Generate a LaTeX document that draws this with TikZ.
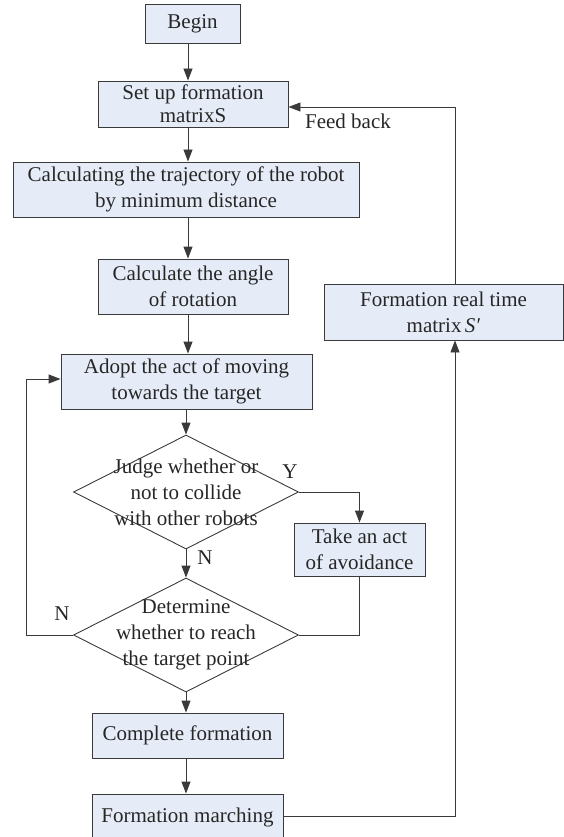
\documentclass[tikz,border=0pt]{standalone}
\usepackage{fontspec}
\setmainfont{Liberation Serif}
\usetikzlibrary{shapes.geometric,arrows.meta}
\definecolor{boxfill}{HTML}{E6ECF7}
\definecolor{lin}{HTML}{3A3A3A}
\begin{document}
\begin{tikzpicture}[x=1pt,y=-1pt,
  every node/.style={font=\fontsize{21}{26}\selectfont, text=black!85},
  procbox/.style={draw=lin, line width=0.9pt, fill=boxfill, rectangle, inner sep=0pt, align=center},
  decide/.style={draw=lin, line width=0.9pt, diamond, inner sep=0pt, minimum width=225pt, minimum height=114pt},
  txt/.style={align=center, inner sep=0pt},
  conn/.style={draw=lin, line width=0.9pt},
  arr/.style={conn, -{Triangle[length=12pt,width=9pt]}}
]
\useasboundingbox (0,0) rectangle (564,837);
\clip (0,0) rectangle (564,837);
\coordinate (ax) at (188,0);

\node[procbox, minimum width=95pt, minimum height=39pt] (begin) at (192.5,23.5) {Begin};
\node[procbox, minimum width=190pt, minimum height=46pt] (setup) at (193,104) {Set up formation\\[-3pt]matrixS};
\node[procbox, minimum width=346pt, minimum height=55pt] (traj) at (186,189.5) {Calculating the trajectory of the robot\\by minimum distance};
\node[procbox, minimum width=190pt, minimum height=55pt] (angle) at (193,286.5) {Calculate the angle\\of rotation};
\node[procbox, minimum width=251pt, minimum height=55pt] (adopt) at (186.5,381.5) {Adopt the act of moving\\towards the target};
\node[decide] (judge) at (186,492) {};
\node[txt] (judget) at (186,492) {Judge whether or\\not to collide\\with other robots};
\node[procbox, minimum width=131pt, minimum height=53pt] (take) at (359.5,549.5) {Take an act\\of avoidance};
\node[decide] (det) at (186,635) {};
\node[txt] (dett) at (186,635) {Determine\\whether to reach\\the target point};
\node[procbox, minimum width=191pt, minimum height=45pt] (complete) at (187.5,735.5) {Complete formation};
\node[procbox, minimum width=191pt, minimum height=46pt] (march) at (187.5,817) {Formation marching};
\node[procbox, minimum width=239pt, minimum height=56pt] (real) at (443.5,312) {Formation real time\\matrix\,\textit{S′}};

\coordinate (fbx) at (455,0);

% main chain
\draw[arr] (begin.south -| ax) -- (setup.north -| ax);
\draw[arr] (setup.south -| ax) -- (traj.north -| ax);
\draw[arr] (traj.south -| ax) -- (angle.north -| ax);
\draw[arr] (angle.south -| ax) -- (adopt.north -| ax);
\draw[arr] (adopt.south -| judge) -- (judge.north);
\draw[arr] (judge.south) -- (det.north);
\draw[arr] (det.south) -- (complete.north -| det);
\draw[arr] (complete.south -| det) -- (march.north -| det);

% Y branch
\draw[arr] (judge.east) -| (take.north);
\draw[conn] (take.south) |- (det.east);
% N loop back
\coordinate (lx) at (26,0);
\coordinate (ly) at (0,379);
\draw[arr] (det.west) -- (det.west -| lx) -- (lx |- ly) -- (adopt.west |- ly);

% feedback
\draw[arr] (march.east |- 0,816) -- (fbx |- 0,816) -- (real.south -| fbx);
\draw[arr] (real.north -| fbx) -- (fbx |- 0,107) -- (setup.east |- 0,107);

% labels
\node[txt] (fbl) at (348,121) {Feed back};
\node[txt] (yl) at (290,472) {Y};
\node[txt] (n1) at (205,558) {N};
\node[txt] (n2) at (62,614) {N};
\end{tikzpicture}
\end{document}
